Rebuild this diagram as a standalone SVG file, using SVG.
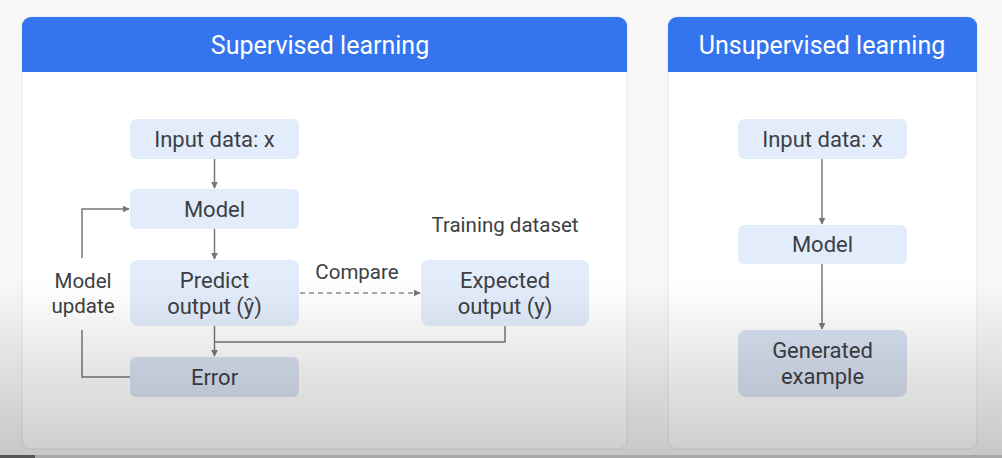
<svg xmlns="http://www.w3.org/2000/svg" width="1002" height="458" viewBox="0 0 1002 458">
<defs>
<style>
.panel{fill:#ffffff;stroke:#e4e6ea;stroke-width:1}
.hdr{fill:#3574ef}
.htxt{font-family:Roboto,"Liberation Sans",sans-serif;font-size:25px;fill:#ffffff;text-anchor:middle}
.node{fill:#e3ecfb}
.node2{fill:#d9e2f2}
.t{font-family:Roboto,"Liberation Sans",sans-serif;font-size:22px;fill:#3c4043;text-anchor:middle}
.l{font-family:Roboto,"Liberation Sans",sans-serif;font-size:20.5px;fill:#3c4043;text-anchor:middle}
.c{fill:none;stroke:#75777a;stroke-width:1.5}
.d{fill:none;stroke:#8a8c8f;stroke-width:1.5;stroke-dasharray:5 4}
</style>
<marker id="ah" viewBox="0 0 10 10" refX="9" refY="5" markerWidth="7" markerHeight="7" markerUnits="userSpaceOnUse" orient="auto">
<path d="M0,0 L10,5 L0,10 z" fill="#75777a"/>
</marker>
<linearGradient id="shade" x1="0" y1="0" x2="0" y2="1">
<stop offset="0" stop-color="#000" stop-opacity="0"/>
<stop offset="1" stop-color="#000" stop-opacity="0.2"/>
</linearGradient>
</defs>
<rect width="1002" height="458" fill="#f8f8f9"/>
<g id="panel-supervised">
<rect class="panel" x="22" y="17" width="605" height="432" rx="9"/>
<path class="hdr" d="M22,72 V26 a9,9 0 0 1 9,-9 H618 a9,9 0 0 1 9,9 V72 z"/>
<text class="htxt" x="320" y="54">Supervised learning</text>
</g>
<g id="panel-unsupervised">
<rect class="panel" x="668" y="17" width="309" height="432" rx="9"/>
<path class="hdr" d="M668,72 V26 a9,9 0 0 1 9,-9 H968 a9,9 0 0 1 9,9 V72 z"/>
<text class="htxt" x="822" y="54">Unsupervised learning</text>
</g>
<g id="connectors">
<line class="c" x1="214.5" y1="159" x2="214.5" y2="188" marker-end="url(#ah)"/>
<line class="c" x1="214.5" y1="229" x2="214.5" y2="259" marker-end="url(#ah)"/>
<line class="c" x1="214.5" y1="326" x2="214.5" y2="356" marker-end="url(#ah)"/>
<polyline class="c" points="505,326 505,342 214.5,342"/>
<line class="d" x1="300" y1="293" x2="420" y2="293" marker-end="url(#ah)"/>
<polyline class="c" points="130,377 82,377 82,330"/>
<polyline class="c" points="82,258 82,209 129,209" marker-end="url(#ah)"/>
<line class="c" x1="822" y1="159" x2="822" y2="224" marker-end="url(#ah)"/>
<line class="c" x1="822" y1="264" x2="822" y2="329" marker-end="url(#ah)"/>
</g>
<g id="label-compare"><text class="l" x="357" y="279">Compare</text></g>
<g id="label-training"><text class="l" x="505" y="232">Training dataset</text></g>
<g id="label-update"><text class="l" x="83" y="288">Model</text><text class="l" x="83" y="313">update</text></g>
<g id="node-input"><rect class="node" x="130" y="119" width="169" height="40" rx="6"/><text class="t" x="214.5" y="147">Input data: x</text></g>
<g id="node-model"><rect class="node" x="130" y="189" width="169" height="40" rx="6"/><text class="t" x="214.5" y="217">Model</text></g>
<g id="node-predict"><rect class="node" x="130" y="260" width="169" height="66" rx="8"/><text class="t" x="214.5" y="288">Predict</text><text class="t" x="214.5" y="314">output (ŷ)</text></g>
<g id="node-error"><rect class="node2" x="130" y="357" width="169" height="40" rx="6"/><text class="t" x="214.5" y="385">Error</text></g>
<g id="node-expected"><rect class="node" x="421" y="260" width="168" height="66" rx="8"/><text class="t" x="505" y="288">Expected</text><text class="t" x="505" y="314">output (y)</text></g>
<g id="node-u-input"><rect class="node" x="738" y="119" width="169" height="40" rx="6"/><text class="t" x="822.5" y="147">Input data: x</text></g>
<g id="node-u-model"><rect class="node" x="738" y="225" width="169" height="39" rx="6"/><text class="t" x="822.5" y="252">Model</text></g>
<g id="node-u-generated"><rect class="node2" x="738" y="330" width="169" height="67" rx="8"/><text class="t" x="822.5" y="358">Generated</text><text class="t" x="822.5" y="384">example</text></g>
<rect x="0" y="280" width="1002" height="178" fill="url(#shade)"/>
<rect x="0" y="455" width="1002" height="3" fill="#a9a9a9"/>
<rect x="0" y="455" width="35" height="3" fill="#555555"/>
</svg>
